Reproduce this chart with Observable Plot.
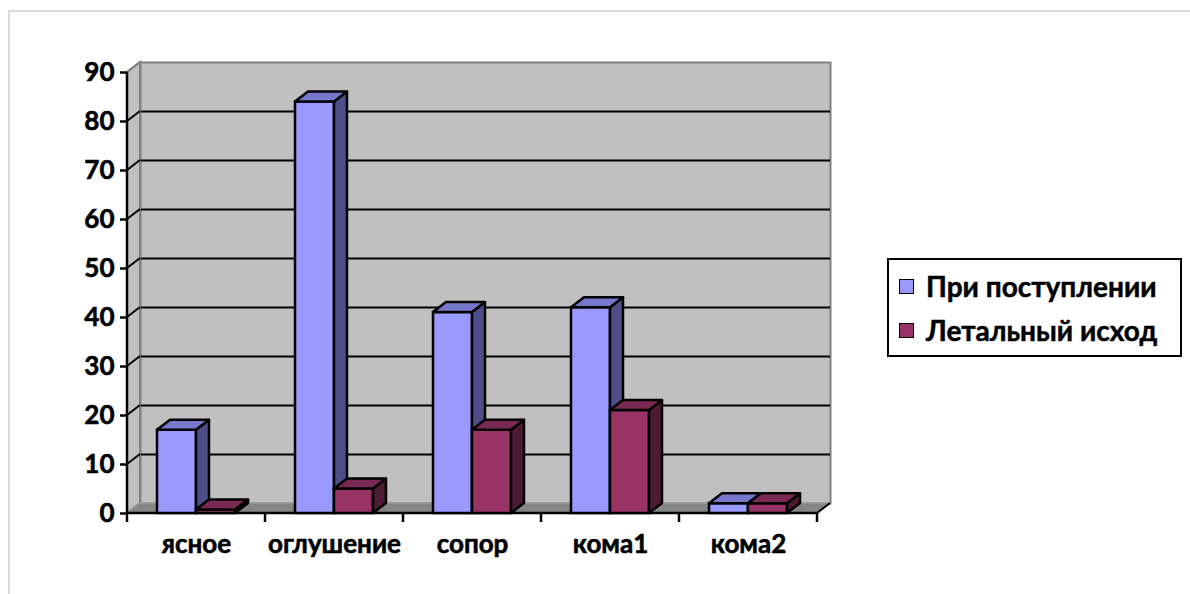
<!DOCTYPE html>
<html>
<head>
<meta charset="utf-8">
<script src="https://cdn.jsdelivr.net/npm/d3@7"></script>
<script src="https://cdn.jsdelivr.net/npm/@observablehq/plot@0.6"></script>
<style>
  body { margin: 0; background: #fff; }
  #wrap { position: relative; width: 1190px; height: 594px; overflow: hidden;
          font-family: Lato, "Open Sans", sans-serif; }
  #border { position: absolute; left: 8px; top: 10px; width: 1300px; height: 700px;
            border-left: 2px solid #d9d9d9; border-top: 2px solid #d9d9d9; }
  #chart { position: absolute; left: 0; top: 0; }
  #chart svg text { stroke: #000; stroke-width: 0.6px; }
  #legend { position: absolute; left: 887px; top: 258px; width: 291px; height: 95px;
            border: 2px solid #000; background: #fff; }
  .item { position: absolute; left: 10px; height: 30px; display: flex; align-items: center;
          font-weight: bold; font-size: 28px; color: #000; white-space: nowrap;
          -webkit-text-stroke: 0.5px #000; }
  .sw { width: 13px; height: 13px; border: 1.5px solid #000; margin-right: 12px; }
</style>
</head>
<body>
<div id="wrap">
  <div id="border"></div>
  <div id="chart"></div>
  <div id="legend"></div>
</div>
<script>
// Patient counts by level of consciousness
const categories = ["ясное", "оглушение", "сопор", "кома1", "кома2"];
const seriesNames = ["При поступлении", "Летальный исход"];
const admitted = [17, 84, 41, 42, 2];
const deaths = [0.7, 5, 17, 21, 2];
const yTicks = [0, 10, 20, 30, 40, 50, 60, 70, 80, 90];
const gridValues = [10, 20, 30, 40, 50, 60, 70, 80];

const seriesColors = ["#9999FF", "#993366"];
const topColors = ["#7777CC", "#7A2952"];
const sideColors = ["#4D4D88", "#4D1A33"];

const rows = categories.flatMap((c, i) => [
  {category: c, series: seriesNames[0], value: admitted[i]},
  {category: c, series: seriesNames[1], value: deaths[i]}
]);

// depth offset of the 3-D box
const DX = 13, DY = -10;
const svgNS = "http://www.w3.org/2000/svg";

function el(tag, attrs) {
  const e = document.createElementNS(svgNS, tag);
  for (const k in attrs) e.setAttribute(k, attrs[k]);
  return e;
}
function bandwidthOf(x) {
  return typeof x.bandwidth === "function" ? x.bandwidth() : x.bandwidth;
}
function stepOf(x) {
  if (typeof x.step === "function") return x.step();
  const d = x.domain();
  return d.length > 1 ? x(d[1]) - x(d[0]) : bandwidthOf(x);
}

// left wall, floor and the short connectors from front ticks to back gridlines
function walls(index, scales) {
  const g = el("g", {});
  const y0 = scales.y(0), y90 = scales.y(90);
  const step = stepOf(scales.x), bw = bandwidthOf(scales.x);
  const xl = scales.x(categories[0]) - (step - bw) / 2;
  const xr = scales.x(categories[categories.length - 1]) + bw + (step - bw) / 2;
  g.append(el("polygon", {
    points: `${xl},${y0} ${xl},${y90} ${xl + DX},${y90 + DY} ${xl + DX},${y0 + DY}`,
    fill: "#c0c0c0", stroke: "#808080", "stroke-width": 2
  }));
  g.append(el("polygon", {
    points: `${xl},${y0} ${xr},${y0} ${xr + DX},${y0 + DY} ${xl + DX},${y0 + DY}`,
    fill: "#858585", stroke: "#9a9a9a", "stroke-width": 1.5
  }));
  for (const v of gridValues) {
    const y = scales.y(v);
    g.append(el("line", {x1: xl, y1: y, x2: xl + DX, y2: y + DY, stroke: "#000", "stroke-width": 2}));
  }
  g.append(el("line", {x1: xl, y1: y90, x2: xl + DX, y2: y90 + DY, stroke: "#808080", "stroke-width": 2}));
  // right floor edge
  g.append(el("line", {x1: xr, y1: y0, x2: xr + DX, y2: y0 + DY, stroke: "#000", "stroke-width": 2}));
  return g;
}

// front axis lines and category boundary ticks
function axes(index, scales) {
  const g = el("g", {});
  const y0 = scales.y(0), y90 = scales.y(90);
  const step = stepOf(scales.x), bw = bandwidthOf(scales.x);
  const gap = step - bw;
  const xl = scales.x(categories[0]) - gap / 2;
  const xr = scales.x(categories[categories.length - 1]) + bw + gap / 2;
  g.append(el("line", {x1: xl, y1: y0, x2: xr, y2: y0, stroke: "#000", "stroke-width": 2.5}));
  g.append(el("line", {x1: xl, y1: y0, x2: xl, y2: y90, stroke: "#000", "stroke-width": 2.5}));
  const bounds = categories.map(c => scales.x(c) - gap / 2).concat([xr]);
  for (const bx of bounds) {
    g.append(el("line", {x1: bx, y1: y0, x2: bx, y2: y0 + 9, stroke: "#000", "stroke-width": 2.5}));
  }
  return g;
}

// top and side faces of one series' columns
function faces(seriesIndex) {
  return function (index, scales) {
    const g = el("g", {stroke: "#000", "stroke-width": 2.5, "stroke-linejoin": "round"});
    const half = bandwidthOf(scales.x) / 2;
    for (const r of rows) {
      if (r.series !== seriesNames[seriesIndex]) continue;
      const x0 = scales.x(r.category) + seriesIndex * half;
      const x1 = x0 + half;
      const yt = scales.y(r.value), yb = scales.y(0);
      g.append(el("polygon", {
        points: `${x1},${yb} ${x1},${yt} ${x1 + DX},${yt + DY} ${x1 + DX},${yb + DY}`,
        fill: sideColors[seriesIndex]
      }));
      g.append(el("polygon", {
        points: `${x0},${yt} ${x1},${yt} ${x1 + DX},${yt + DY} ${x0 + DX},${yt + DY}`,
        fill: topColors[seriesIndex]
      }));
    }
    return g;
  };
}

const font = "Lato, 'Open Sans', sans-serif";

const chart = Plot.plot({
  width: 1190,
  height: 594,
  marginLeft: 127,
  marginRight: 373,
  marginTop: 72,
  marginBottom: 81,
  style: {background: "transparent", fontFamily: font, overflow: "visible"},
  x: {domain: categories, paddingInner: 0.435, paddingOuter: 0.2175, axis: null},
  y: {domain: [0, 90], axis: null},
  color: {domain: seriesNames, range: seriesColors},
  marks: [
    // back wall
    Plot.frame({fill: "#c0c0c0", stroke: "#808080", strokeWidth: 2, dx: DX, dy: DY}),
    Plot.ruleY(gridValues, {stroke: "#000", strokeWidth: 2, dx: DX, dy: DY}),
    walls,
    axes,
    Plot.axisY(yTicks, {
      tickSize: 7, tickPadding: 6, stroke: "#000", strokeWidth: 2.5,
      fontSize: 26, fontWeight: "bold", fill: "#000", label: null
    }),
    Plot.axisX({
      tickSize: 0, tickPadding: 21, fontSize: 26, fontWeight: "bold", fill: "#000", label: null
    }),
    Plot.barY(rows.filter(d => d.series === seriesNames[0]), {
      x: "category", y: "value", fill: "series", stroke: "#000", strokeWidth: 2.5, insetRight: 39
    }),
    faces(0),
    Plot.barY(rows.filter(d => d.series === seriesNames[1]), {
      x: "category", y: "value", fill: "series", stroke: "#000", strokeWidth: 2.5, insetLeft: 39
    }),
    faces(1)
  ]
});
document.getElementById("chart").append(chart);

// legend
const legend = document.getElementById("legend");
seriesNames.forEach((name, i) => {
  const item = document.createElement("div");
  item.className = "item";
  item.style.top = (i === 0 ? 11 : 55) + "px";
  const sw = document.createElement("span");
  sw.className = "sw";
  sw.style.background = seriesColors[i];
  item.append(sw, document.createTextNode(name));
  legend.append(item);
});
</script>
</body>
</html>
